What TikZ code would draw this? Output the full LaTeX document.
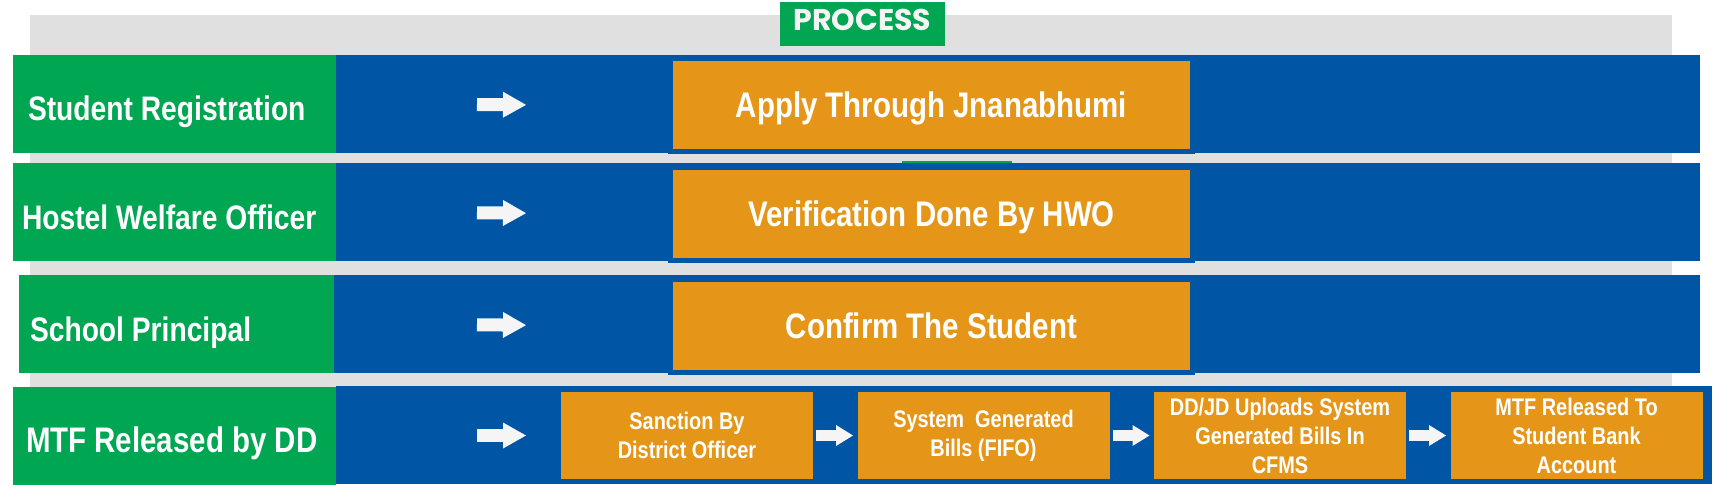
\documentclass[tikz,border=0pt]{standalone}
\usepackage{fontspec}
\setmainfont{Liberation Sans}
\newfontfamily\condfont[FakeStretch=0.83]{Liberation Sans}
\newfontfamily\titlefont{Poppins}
\usepackage{tikz}
\usetikzlibrary{arrows.meta}
\usetikzlibrary{positioning}
\definecolor{leafgreen}{HTML}{00A651}
\definecolor{laneblue}{HTML}{0055A5}
\definecolor{amber}{HTML}{E59619}
\definecolor{paper}{HTML}{E0E0E0}
\definecolor{snow}{HTML}{F5F5F5}
\newcommand{\rolename}[3]{\makebox[#1][l]{\hspace*{#2}#3}}

\begin{document}
\begin{tikzpicture}[x=1pt, y=-1pt,
    rolebox/.style={fill=leafgreen, text=white, minimum width=323pt, minimum height=98pt,
        inner xsep=9pt, text height=34pt, text depth=0pt, outer sep=0pt,
        font=\condfont\bfseries\fontsize{34}{40}\selectfont},
    taskbox/.style={fill=amber, draw=laneblue, line width=5pt, text=white,
        minimum width=522pt, minimum height=93pt, outer sep=0pt,
        text height=25pt, text depth=0pt, font=\condfont\bfseries\fontsize{35.5}{42}\selectfont},
    stepbox/.style={fill=amber, draw=laneblue, line width=5pt, text=white,
        minimum width=257pt, minimum height=92pt, outer sep=0pt, inner sep=0pt,
        align=center, font=\condfont\bfseries\fontsize{24}{29}\selectfont},
    bigarrow/.style={draw=snow, line width=13pt, -{Triangle[length=23pt, width=26pt, line width=0pt]}},
    smallarrow/.style={draw=snow, line width=11pt, -{Triangle[length=17pt, width=21pt, line width=0pt]}}]

    \useasboundingbox (0,0) rectangle (1727,500);

    % Background
    \fill[paper] (30,15) rectangle (1672,387);
    \node[fill=leafgreen, text=snow, minimum width=165pt, minimum height=44pt, outer sep=0pt,
        text height=21pt, text depth=7.6pt,
        font=\titlefont\bfseries\fontsize{30}{34}\selectfont] (title) at (862.5,24) {PROCESS};
    \fill[leafgreen] (902,161.5) rectangle (1012,163);

    % Lanes
    \fill[laneblue] (336,55) rectangle (1700,153);
    \fill[laneblue] (336,163) rectangle (1700,261);
    \fill[laneblue] (334,275) rectangle (1700,373);
    \fill[laneblue] (336,386) rectangle (1712,484);

    % Student Registration
    \node[rolebox] (sr) at (174.5,104) {\rolename{305pt}{6pt}{Student Registration}};
    \node[taskbox] (apply) at (931.5,105.5) {Apply Through Jnanabhumi};
    \draw[bigarrow, shorten <=141pt, shorten >=144.5pt] (sr.east) -- (apply.west);

    % Hostel Welfare Officer
    \node[rolebox] (hwo) at (174.5,212) {\rolename{305pt}{0pt}{Hostel Welfare Officer}};
    \node[taskbox] (verify) at (931.5,214) {Verification Done By HWO};
    \draw[bigarrow, shorten <=141pt, shorten >=144.5pt] (hwo.east) -- (verify.west);

    % School Principal
    \node[rolebox, minimum width=315pt] (sp) at (176.5,324) {\rolename{297pt}{2pt}{School Principal}};
    \node[taskbox] (confirm) at (931.5,326) {Confirm The Student};
    \draw[bigarrow, shorten <=143pt, shorten >=144.5pt] (sp.east) -- (confirm.west);

    % MTF Released by DD
    \node[rolebox, font=\condfont\bfseries\fontsize{35.5}{40}\selectfont] (mtf) at (174.5,435.5)
        {\rolename{305pt}{4pt}{MTF Released by DD}};
    \node[stepbox] (sanction) at (687,435.5) {Sanction By\\District Officer};
    \node[stepbox, right=39.5pt of sanction] (bills) {System~ Generated\\Bills (FIFO)};
    \node[stepbox, right=39.5pt of bills] (upload) {DD/JD Uploads System\\Generated Bills In\\CFMS};
    \node[stepbox, right=39.5pt of upload] (release) {MTF Released To\\Student Bank\\Account};
    \draw[bigarrow, shorten <=141pt, shorten >=32.5pt] (mtf.east) -- (sanction.west);
    \draw[smallarrow, shorten <=0.5pt, shorten >=2pt] (sanction) -- (bills);
    \draw[smallarrow, shorten <=0.5pt, shorten >=2pt] (bills) -- (upload);
    \draw[smallarrow, shorten <=0.5pt, shorten >=2pt] (upload) -- (release);

\end{tikzpicture}
\end{document}
